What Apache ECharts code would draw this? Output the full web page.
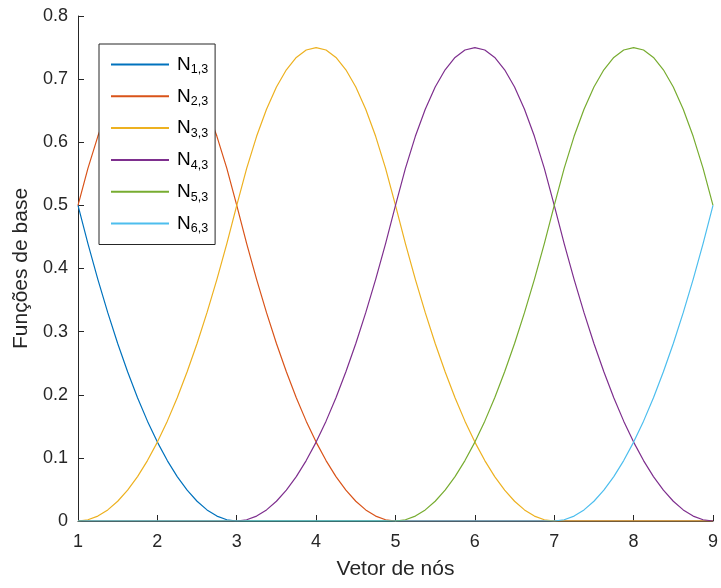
<!DOCTYPE html>
<html>
<head>
  <meta charset="UTF-8">
  <title>Funções de base</title>
  <script src="https://cdn.jsdelivr.net/npm/echarts@6/dist/echarts.min.js"></script>
  <style>
    html, body { margin: 0; padding: 0; background: #fff; }
  </style>
</head>
<body>
  <div id="main" style="width: 721px; height: 588px;"></div>

  <script>
    // vetor de nós: x de 1 a 9, passo 0.125
    const xValues = [
      1, 1.125, 1.25, 1.375, 1.5, 1.625, 1.75, 1.875,
      2, 2.125, 2.25, 2.375, 2.5, 2.625, 2.75, 2.875,
      3, 3.125, 3.25, 3.375, 3.5, 3.625, 3.75, 3.875,
      4, 4.125, 4.25, 4.375, 4.5, 4.625, 4.75, 4.875,
      5, 5.125, 5.25, 5.375, 5.5, 5.625, 5.75, 5.875,
      6, 6.125, 6.25, 6.375, 6.5, 6.625, 6.75, 6.875,
      7, 7.125, 7.25, 7.375, 7.5, 7.625, 7.75, 7.875,
      8, 8.125, 8.25, 8.375, 8.5, 8.625, 8.75, 8.875,
      9
    ];

    // funções de base (65 pontos cada)
    const n1 = [
      0.5, 0.43945, 0.38281, 0.33008, 0.28125, 0.23633, 0.19531, 0.1582,
      0.125, 0.0957, 0.07031, 0.04883, 0.03125, 0.01758, 0.00781, 0.00195,
      0, 0, 0, 0, 0, 0, 0, 0, 0, 0, 0, 0, 0, 0, 0, 0,
      0, 0, 0, 0, 0, 0, 0, 0, 0, 0, 0, 0, 0, 0, 0, 0,
      0, 0, 0, 0, 0, 0, 0, 0, 0, 0, 0, 0, 0, 0, 0, 0,
      0
    ];
    const n2 = [
      0.5, 0.55859, 0.60938, 0.65234, 0.6875, 0.71484, 0.73438, 0.74609,
      0.75, 0.74609, 0.73438, 0.71484, 0.6875, 0.65234, 0.60938, 0.55859,
      0.5, 0.43945, 0.38281, 0.33008, 0.28125, 0.23633, 0.19531, 0.1582,
      0.125, 0.0957, 0.07031, 0.04883, 0.03125, 0.01758, 0.00781, 0.00195,
      0, 0, 0, 0, 0, 0, 0, 0, 0, 0, 0, 0, 0, 0, 0, 0,
      0, 0, 0, 0, 0, 0, 0, 0, 0, 0, 0, 0, 0, 0, 0, 0,
      0
    ];
    const n3 = [
      0, 0.00195, 0.00781, 0.01758, 0.03125, 0.04883, 0.07031, 0.0957,
      0.125, 0.1582, 0.19531, 0.23633, 0.28125, 0.33008, 0.38281, 0.43945,
      0.5, 0.55859, 0.60938, 0.65234, 0.6875, 0.71484, 0.73438, 0.74609,
      0.75, 0.74609, 0.73438, 0.71484, 0.6875, 0.65234, 0.60938, 0.55859,
      0.5, 0.43945, 0.38281, 0.33008, 0.28125, 0.23633, 0.19531, 0.1582,
      0.125, 0.0957, 0.07031, 0.04883, 0.03125, 0.01758, 0.00781, 0.00195,
      0, 0, 0, 0, 0, 0, 0, 0, 0, 0, 0, 0, 0, 0, 0, 0,
      0
    ];
    const n4 = [
      0, 0, 0, 0, 0, 0, 0, 0, 0, 0, 0, 0, 0, 0, 0, 0,
      0, 0.00195, 0.00781, 0.01758, 0.03125, 0.04883, 0.07031, 0.0957,
      0.125, 0.1582, 0.19531, 0.23633, 0.28125, 0.33008, 0.38281, 0.43945,
      0.5, 0.55859, 0.60938, 0.65234, 0.6875, 0.71484, 0.73438, 0.74609,
      0.75, 0.74609, 0.73438, 0.71484, 0.6875, 0.65234, 0.60938, 0.55859,
      0.5, 0.43945, 0.38281, 0.33008, 0.28125, 0.23633, 0.19531, 0.1582,
      0.125, 0.0957, 0.07031, 0.04883, 0.03125, 0.01758, 0.00781, 0.00195,
      0
    ];
    const n5 = [
      0, 0, 0, 0, 0, 0, 0, 0, 0, 0, 0, 0, 0, 0, 0, 0,
      0, 0, 0, 0, 0, 0, 0, 0, 0, 0, 0, 0, 0, 0, 0, 0,
      0, 0.00195, 0.00781, 0.01758, 0.03125, 0.04883, 0.07031, 0.0957,
      0.125, 0.1582, 0.19531, 0.23633, 0.28125, 0.33008, 0.38281, 0.43945,
      0.5, 0.55859, 0.60938, 0.65234, 0.6875, 0.71484, 0.73438, 0.74609,
      0.75, 0.74609, 0.73438, 0.71484, 0.6875, 0.65234, 0.60938, 0.55859,
      0.5
    ];
    const n6 = [
      0, 0, 0, 0, 0, 0, 0, 0, 0, 0, 0, 0, 0, 0, 0, 0,
      0, 0, 0, 0, 0, 0, 0, 0, 0, 0, 0, 0, 0, 0, 0, 0,
      0, 0, 0, 0, 0, 0, 0, 0, 0, 0, 0, 0, 0, 0, 0, 0,
      0, 0.00195, 0.00781, 0.01758, 0.03125, 0.04883, 0.07031, 0.0957,
      0.125, 0.1582, 0.19531, 0.23633, 0.28125, 0.33008, 0.38281, 0.43945,
      0.5
    ];

    const seriesValues = [n1, n2, n3, n4, n5, n6];
    const subscripts = ['1,3', '2,3', '3,3', '4,3', '5,3', '6,3'];
    const colors = ['#0072BD', '#D95319', '#EDB120', '#7E2F8E', '#77AC30', '#4DBEEE'];

    const font = '"Liberation Sans", Arial, Helvetica, sans-serif';
    const ink = '#262626';

    const series = seriesValues.map((vals, i) => ({
      name: 'N' + subscripts[i],
      type: 'line',
      symbol: 'none',
      smooth: false,
      lineStyle: { width: 1.2, color: colors[i] },
      itemStyle: { color: colors[i] },
      data: vals.map((v, k) => [xValues[k], v])
    }));

    const option = {
      animation: false,
      backgroundColor: '#fff',
      textStyle: { fontFamily: font },
      grid: { left: 78, right: 7, top: 16, bottom: 67, containLabel: false },
      legend: {
        orient: 'vertical',
        left: 99,
        top: 44,
        padding: [11, 7, 9, 12],
        itemGap: 10.3,
        itemWidth: 58,
        itemHeight: 2,
        icon: 'rect',
        borderColor: ink,
        borderWidth: 1,
        backgroundColor: '#fff',
        data: series.map(s => s.name),
        formatter: name => 'N{s|' + name.slice(1) + '}',
        textStyle: {
          fontFamily: font,
          fontSize: 19,
          color: '#000',
          padding: [0, 0, 0, 3],
          rich: {
            s: { fontSize: 12.5, padding: [11, 0, 0, 0], color: '#000' }
          }
        }
      },
      xAxis: {
        type: 'value',
        min: 1,
        max: 9,
        interval: 1,
        name: 'Vetor de nós',
        nameLocation: 'middle',
        nameGap: 38,
        nameTextStyle: { fontSize: 21, color: ink, fontFamily: font },
        axisLine: { lineStyle: { color: ink, width: 1 } },
        axisTick: { inside: true, length: 6, lineStyle: { color: ink } },
        axisLabel: { fontSize: 18, color: ink, margin: 12, fontFamily: font },
        splitLine: { show: false }
      },
      yAxis: {
        type: 'value',
        min: 0,
        max: 0.8,
        interval: 0.1,
        name: 'Funções de base',
        nameLocation: 'middle',
        nameGap: 38,
        nameTextStyle: { fontSize: 21, color: ink, fontFamily: font },
        axisLine: { show: true, lineStyle: { color: ink, width: 1 } },
        axisTick: { show: true, inside: true, length: 6, lineStyle: { color: ink } },
        axisLabel: {
          fontSize: 18, color: ink, margin: 10, fontFamily: font,
          formatter: v => (Math.round(v * 10) / 10).toString()
        },
        splitLine: { show: false }
      },
      series
    };

    const chart = echarts.init(document.getElementById('main'));
    chart.setOption(option);
  </script>
</body>
</html>
